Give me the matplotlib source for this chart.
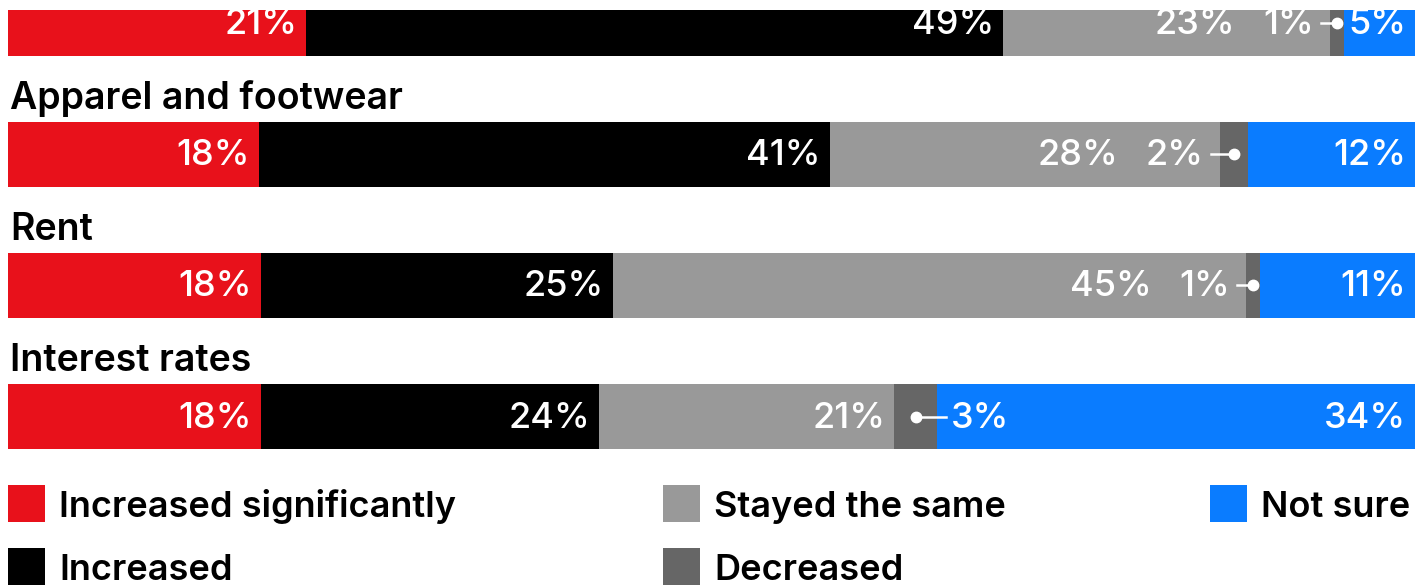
import matplotlib.pyplot as plt
from matplotlib.patches import Rectangle

plt.rcParams['font.family'] = ['Inter', 'DejaVu Sans']

# Data (top row's category label is cut off in the source)
categories = ["", "Apparel and footwear", "Rent", "Interest rates"]
responses = ["Increased significantly", "Increased", "Stayed the same", "Decreased", "Not sure"]
inc_sig = [21, 18, 18, 18]
increased = [49, 41, 25, 24]
same = [23, 28, 45, 21]
decreased = [1, 2, 1, 3]
not_sure = [5, 12, 11, 34]
pointer_side = ["left", "left", "left", "right"]  # where the small "Decreased" label sits

colors = ["#E8111B", "#000000", "#999999", "#666666", "#0A7CFF"]

W, H = 1427, 585
fig = plt.figure(figsize=(W / 100, H / 100), dpi=100)
# axes spans the bar area (pixels from top-left: x 8..1415, y 10..449)
ax = fig.add_axes([8 / W, 1 - 449 / H, (1415 - 8) / W, (449 - 10) / H])

h = 65 / 131
ax.set_xlim(0, 100)
ax.set_ylim(3 + (449 - 416.5) / 131, (10 - 154.5) / 131 + 1)
ax.axis('off')
ppu = ax.bbox.width / 100  # pixels per percent unit

pct_font = dict(color='white', fontsize=26, fontweight='medium')

series = [inc_sig, increased, same, decreased, not_sure]
for i, cat in enumerate(categories):
    vals = [s[i] for s in series]
    total = sum(vals)
    edges = [0]
    for v in vals:
        edges.append(edges[-1] + v / total * 100)

    # small "Decreased" label with a dot pointer
    l3, r3 = edges[3], edges[4]
    cx = (l3 + r3) / 2
    ax.plot(cx, i, 'o', color='white', markersize=7.5, zorder=4)
    if pointer_side[i] == "left":
        bx = l3 - 9 / ppu
        tx, ha = l3 - 16 / ppu, 'right'
    else:
        bx = r3 + 9 / ppu
        tx, ha = r3 + 14 / ppu, 'left'
    ax.plot([bx, cx], [i, i], color='white', lw=1.8, zorder=4)
    small = ax.annotate(f"{vals[3]}%", xy=(tx, i), xytext=(0, -11), textcoords='offset pixels',
                        ha=ha, va='baseline', annotation_clip=False, **pct_font)

    for j in [0, 1, 2, 4]:
        if j == 2 and pointer_side[i] == "left":
            # sits to the left of the small label
            t = ax.annotate(f"{vals[j]}%", xy=(0, 0), xycoords=small, xytext=(-28, 0),
                            textcoords='offset pixels', ha='right', va='bottom', **pct_font)
        else:
            t = ax.annotate(f"{vals[j]}%", xy=(edges[j + 1], i), xytext=(-9, -11),
                            textcoords='offset pixels', ha='right', va='baseline', **pct_font)
        t.set_clip_on(True)

    for j in range(5):
        ax.barh(i, edges[j + 1] - edges[j], left=edges[j], height=h, color=colors[j], linewidth=0)

    if cat:
        ax.annotate(cat, xy=(0, i - h / 2), xytext=(2, 13), textcoords='offset pixels',
                    ha='left', va='baseline', color='black', fontsize=27,
                    fontweight='semibold', annotation_clip=False)

# legend, laid out in three columns like the source
leg_x = [8, 8, 663, 663, 1210]
leg_y = [485, 548, 485, 548, 485]
for name, c, px, py in zip(responses, colors, leg_x, leg_y):
    fig.add_artist(Rectangle((px / W, 1 - (py + 37) / H), 37 / W, 37 / H,
                             transform=fig.transFigure, color=c, linewidth=0))
    fig.text((px + 51) / W, 1 - (py + 32) / H, name, ha='left', va='baseline',
             fontsize=26, fontweight='semibold', color='black')

fig.savefig("out.png", dpi=100)
